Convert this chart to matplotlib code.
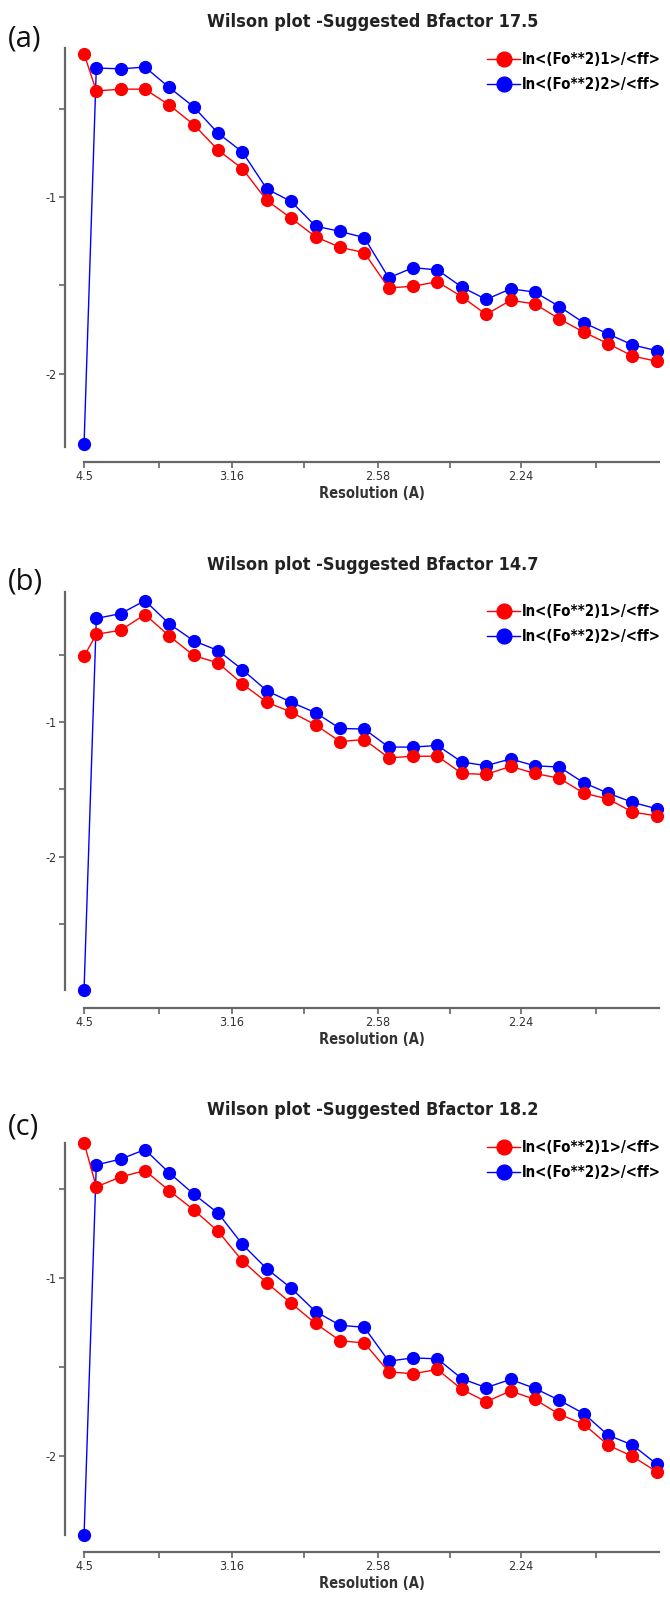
import matplotlib
matplotlib.use("Agg")
import matplotlib.pyplot as plt
from matplotlib.ticker import FixedLocator, NullFormatter

# Wilson plots for three data sets, x axis is 1/d^2, labelled in resolution (A)

# bin positions in 1/d^2 (first point sits at the 4.5 A edge)
inv_d2 = [0.0494, 0.0536, 0.0619, 0.0703, 0.0786, 0.0870, 0.0954, 0.1037,
          0.1121, 0.1204, 0.1288, 0.1372, 0.1455, 0.1539, 0.1622, 0.1706,
          0.1790, 0.1873, 0.1957, 0.2040, 0.2124, 0.2208, 0.2291, 0.2375,
          0.2458]

res_labels = ["4.5", "3.16", "2.58", "2.24"]
res_minor = [0.075, 0.125, 0.175, 0.225]

titles = ["Wilson plot -Suggested Bfactor 17.5",
          "Wilson plot -Suggested Bfactor 14.7",
          "Wilson plot -Suggested Bfactor 18.2"]
panel_tags = ["(a)", "(b)", "(c)"]
series_names = ["ln<(Fo**2)1>/<ff>", "ln<(Fo**2)2>/<ff>"]

a_red = [-0.19, -0.40, -0.39, -0.39, -0.48, -0.59, -0.735, -0.84, -1.02, -1.12,
         -1.225, -1.285, -1.315, -1.515, -1.505, -1.48, -1.565, -1.665, -1.585,
         -1.605, -1.69, -1.765, -1.83, -1.90, -1.93]
a_blue = [-2.40, -0.27, -0.275, -0.265, -0.38, -0.49, -0.64, -0.745, -0.955,
          -1.025, -1.165, -1.195, -1.23, -1.458, -1.40, -1.413, -1.51, -1.58,
          -1.52, -1.538, -1.62, -1.712, -1.775, -1.837, -1.87]

b_red = [-0.513, -0.35, -0.32, -0.203, -0.362, -0.507, -0.563, -0.718, -0.854,
         -0.927, -1.022, -1.146, -1.131, -1.267, -1.255, -1.255, -1.383, -1.39,
         -1.33, -1.383, -1.418, -1.529, -1.572, -1.669, -1.698]
b_blue = [-2.99, -0.232, -0.197, -0.10, -0.272, -0.398, -0.471, -0.612, -0.769,
          -0.854, -0.932, -1.049, -1.053, -1.187, -1.187, -1.175, -1.298, -1.325,
          -1.275, -1.326, -1.335, -1.452, -1.529, -1.597, -1.645]

c_red = [-0.24, -0.488, -0.432, -0.396, -0.509, -0.617, -0.738, -0.904, -1.028,
         -1.142, -1.256, -1.353, -1.366, -1.528, -1.539, -1.515, -1.627, -1.696,
         -1.636, -1.683, -1.767, -1.823, -1.94, -2.004, -2.09]
c_blue = [-2.446, -0.364, -0.332, -0.278, -0.409, -0.528, -0.636, -0.811, -0.949,
          -1.057, -1.189, -1.266, -1.278, -1.468, -1.45, -1.455, -1.567, -1.617,
          -1.571, -1.621, -1.688, -1.763, -1.884, -1.94, -2.047]

reds = [a_red, b_red, c_red]
blues = [a_blue, b_blue, c_blue]
ylims = [(-2.415, -0.157), (-2.99, -0.036), (-2.446, -0.241)]

W, H = 670, 1602
# panel layout in pixels: axes top, axes bottom, x-axis line, title y, legend y
layout = [(48, 447, 462, 22, 61),
          (592, 990, 1008, 565, 613),
          (1143, 1535, 1552, 1110, 1149)]

narrow = ["DejaVu Sans"]
txt_col = "#333333"
spine_col = "#666666"

fig = plt.figure(figsize=(W / 100, H / 100), dpi=100)
px2pt = 72 / 100

for i in range(3):
    top, bot, xline, ty, ly = layout[i]
    ax = fig.add_axes([84 / W, 1 - bot / H, (659 - 84) / W, (bot - top) / H])

    hb, = ax.plot(inv_d2, blues[i], "-o", color="#0000ff", lw=1.0, ms=8.5,
                  mec="#0000ff", clip_on=False, zorder=3)
    hr, = ax.plot(inv_d2, reds[i], "-o", color="#ff0000", lw=1.0, ms=8.5,
                  mec="#ff0000", clip_on=False, zorder=4)

    ax.set_xlim(0.04938, 0.2466)
    ax.set_ylim(*ylims[i])

    for s in ["top", "right"]:
        ax.spines[s].set_visible(False)
    ax.spines["left"].set_position(("outward", 19 * px2pt))
    ax.spines["bottom"].set_position(("outward", (xline - bot) * px2pt))
    for s in ["left", "bottom"]:
        ax.spines[s].set_color(spine_col)
        ax.spines[s].set_linewidth(1.6)

    ax.set_xticks([1 / float(r) ** 2 for r in res_labels])
    ax.set_xticklabels(res_labels, family=narrow, stretch="condensed",
                       fontsize=9, color=txt_col)
    ax.xaxis.set_minor_locator(FixedLocator(res_minor))
    ax.xaxis.set_minor_formatter(NullFormatter())

    ax.set_yticks([-1, -2])
    ax.set_yticklabels(["-1", "-2"], family=narrow, stretch="condensed",
                       fontsize=9, color=txt_col)
    ax.yaxis.set_minor_locator(FixedLocator([-0.5, -1.5, -2.5]))
    ax.yaxis.set_minor_formatter(NullFormatter())

    ax.tick_params(which="both", color=spine_col, width=1.2, length=4, pad=2)

    ax.set_xlabel("Resolution (A)", family=narrow, stretch="condensed",
                  fontsize=10.5, fontweight="bold", color=txt_col, labelpad=2)

    fig.text(373 / W, 1 - ty / H, titles[i], ha="center", va="center",
             family=narrow, stretch="condensed", fontsize=13,
             fontweight="bold", color="#222222")
    fig.text(8 / W, 1 - (ty + 17) / H, panel_tags[i], ha="left", va="center",
             family=["Open Sans", "DejaVu Sans"], fontsize=21, color="#111111")

    fig.legend([hr, hb], series_names, loc="upper left",
               bbox_to_anchor=(487 / W, 1 - (ly - 9) / H), frameon=False,
               prop={"family": narrow, "stretch": "condensed", "size": 10.8,
                     "weight": "bold"},
               handlelength=2.2, handletextpad=0.15, labelspacing=0.65,
               borderaxespad=0, borderpad=0, markerscale=1.25)

fig.savefig("out.png", dpi=100)
